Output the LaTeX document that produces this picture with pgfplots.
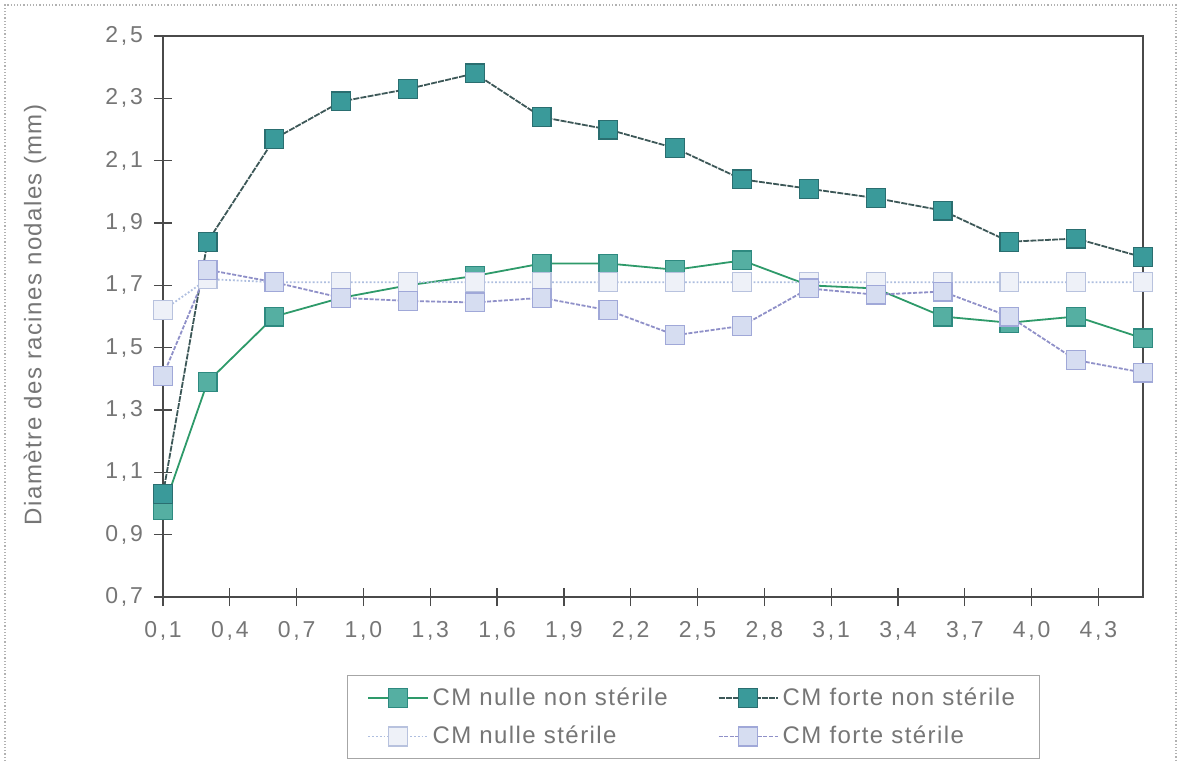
\documentclass[border=0pt]{standalone}
\usepackage{fontspec}
\setmainfont{Liberation Sans}
\newfontfamily\tickfont[LetterSpace=12]{Liberation Sans}
\newfontfamily\labfont[LetterSpace=6]{Liberation Sans}
\usepackage{pgfplots}
\pgfplotsset{compat=1.18}
\definecolor{axisgray}{HTML}{4A4A4A}
\definecolor{ticktext}{HTML}{767676}
\definecolor{fnsline}{HTML}{3D5858}
\definecolor{fnsfill}{HTML}{3A9A9A}
\definecolor{fnsdraw}{HTML}{2A6E70}
\definecolor{nnsline}{HTML}{2E9A6A}
\definecolor{nnsfill}{HTML}{55AFA2}
\definecolor{nnsdraw}{HTML}{2E8A80}
\definecolor{nsline}{HTML}{AEBEDF}
\definecolor{nsfill}{HTML}{EEF1F8}
\definecolor{nsdraw}{HTML}{B8C2DE}
\definecolor{fsline}{HTML}{8F90C8}
\definecolor{fsfill}{HTML}{D6DDF1}
\definecolor{fsdraw}{HTML}{A0A8D8}
\begin{document}
\begin{tikzpicture}
\path[use as bounding box] (-81.5pt,-82pt) rectangle (509.5pt,298.5pt);
\draw[gray!60, densely dotted, line width=0.6pt] (-79pt,-82pt) -- (-79pt,296pt) -- (506.5pt,296pt) -- (506.5pt,-82pt);
\begin{axis}[
  at={(0pt,0pt)}, anchor=south west,
  scale only axis, width=490pt, height=280.5pt,
  xmin=0.1, xmax=4.5, ymin=0.7, ymax=2.5,
  xtick={0.1,0.4,...,4.35},
  xticklabels={{0,1},{0,4},{0,7},{1,0},{1,3},{1,6},{1,9},{2,2},{2,5},{2,8},{3,1},{3,4},{3,7},{4,0},{4,3}},
  ytick={0.7,0.9,...,2.55},
  yticklabels={{0,7},{0,9},{1,1},{1,3},{1,5},{1,7},{1,9},{2,1},{2,3},{2,5}},
  xtick pos=left, ytick pos=left,
  tick align=center, major tick length=9pt,
  tick style={axisgray, line width=0.6pt},
  axis line style={axisgray, line width=0.8pt},
  ticklabel style={font=\tickfont\fontsize{11.5}{13}\selectfont, text=ticktext},
  xticklabel style={yshift=-4pt},
  yticklabel style={xshift=-2pt},
  ylabel={Diamètre des racines nodales (mm)},
  ylabel style={at={(axis description cs:-0.1306,0.503)}, anchor=center, font=\labfont\fontsize{12}{14}\selectfont, text=ticktext},
  legend columns=2,
  legend style={at={(axis description cs:0.1878,-0.139)}, anchor=north west,
    draw=gray!70, line width=0.5pt, fill=white,
    font=\labfont\fontsize{12}{14}\selectfont, text=ticktext,
    inner xsep=10pt, inner ysep=4pt,
    /tikz/every even column/.append style={column sep=23pt},
    row sep=5pt},
  legend cell align=left,
  legend image code/.code={\draw[mark repeat=2,mark phase=2] plot coordinates {(0cm,0cm) (0.52cm,0cm) (1.04cm,0cm)};},
  mark size=4.7pt, clip=false,
]
\addplot[nnsline, line width=0.9pt, mark=square*, mark options={solid, fill=nnsfill, draw=nnsdraw, line width=0.6pt}] coordinates {
(0.1,0.98) (0.3,1.39) (0.6,1.60) (0.9,1.66) (1.2,1.70) (1.5,1.73) (1.8,1.77) (2.1,1.77) (2.4,1.75) (2.7,1.78) (3.0,1.70) (3.3,1.69) (3.6,1.60) (3.9,1.58) (4.2,1.60) (4.5,1.53)};
\addlegendentry{CM nulle non stérile}
\addplot[fnsline, line width=0.9pt, dash pattern=on 3pt off 0.6pt, mark=square*, mark options={solid, fill=fnsfill, draw=fnsdraw, line width=0.6pt}] coordinates {
(0.1,1.03) (0.3,1.84) (0.6,2.17) (0.9,2.29) (1.2,2.33) (1.5,2.38) (1.8,2.24) (2.1,2.20) (2.4,2.14) (2.7,2.04) (3.0,2.01) (3.3,1.98) (3.6,1.94) (3.9,1.84) (4.2,1.85) (4.5,1.79)};
\addlegendentry{CM forte non stérile}
\addplot[nsline, line width=0.9pt, densely dotted, mark=square*, mark options={solid, fill=nsfill, draw=nsdraw, line width=0.6pt}] coordinates {
(0.1,1.62) (0.3,1.72) (0.6,1.71) (0.9,1.71) (1.2,1.71) (1.5,1.71) (1.8,1.71) (2.1,1.71) (2.4,1.71) (2.7,1.71) (3.0,1.71) (3.3,1.71) (3.6,1.71) (3.9,1.71) (4.2,1.71) (4.5,1.71)};
\addlegendentry{CM nulle stérile}
\addplot[fsline, line width=0.9pt, dash pattern=on 2pt off 0.8pt, mark=square*, mark options={solid, fill=fsfill, draw=fsdraw, line width=0.6pt}] coordinates {
(0.1,1.41) (0.3,1.75) (0.6,1.71) (0.9,1.66) (1.2,1.65) (1.5,1.645) (1.8,1.66) (2.1,1.62) (2.4,1.54) (2.7,1.57) (3.0,1.69) (3.3,1.67) (3.6,1.68) (3.9,1.60) (4.2,1.46) (4.5,1.42)};
\addlegendentry{CM forte stérile}
\end{axis}
\end{tikzpicture}
\end{document}
